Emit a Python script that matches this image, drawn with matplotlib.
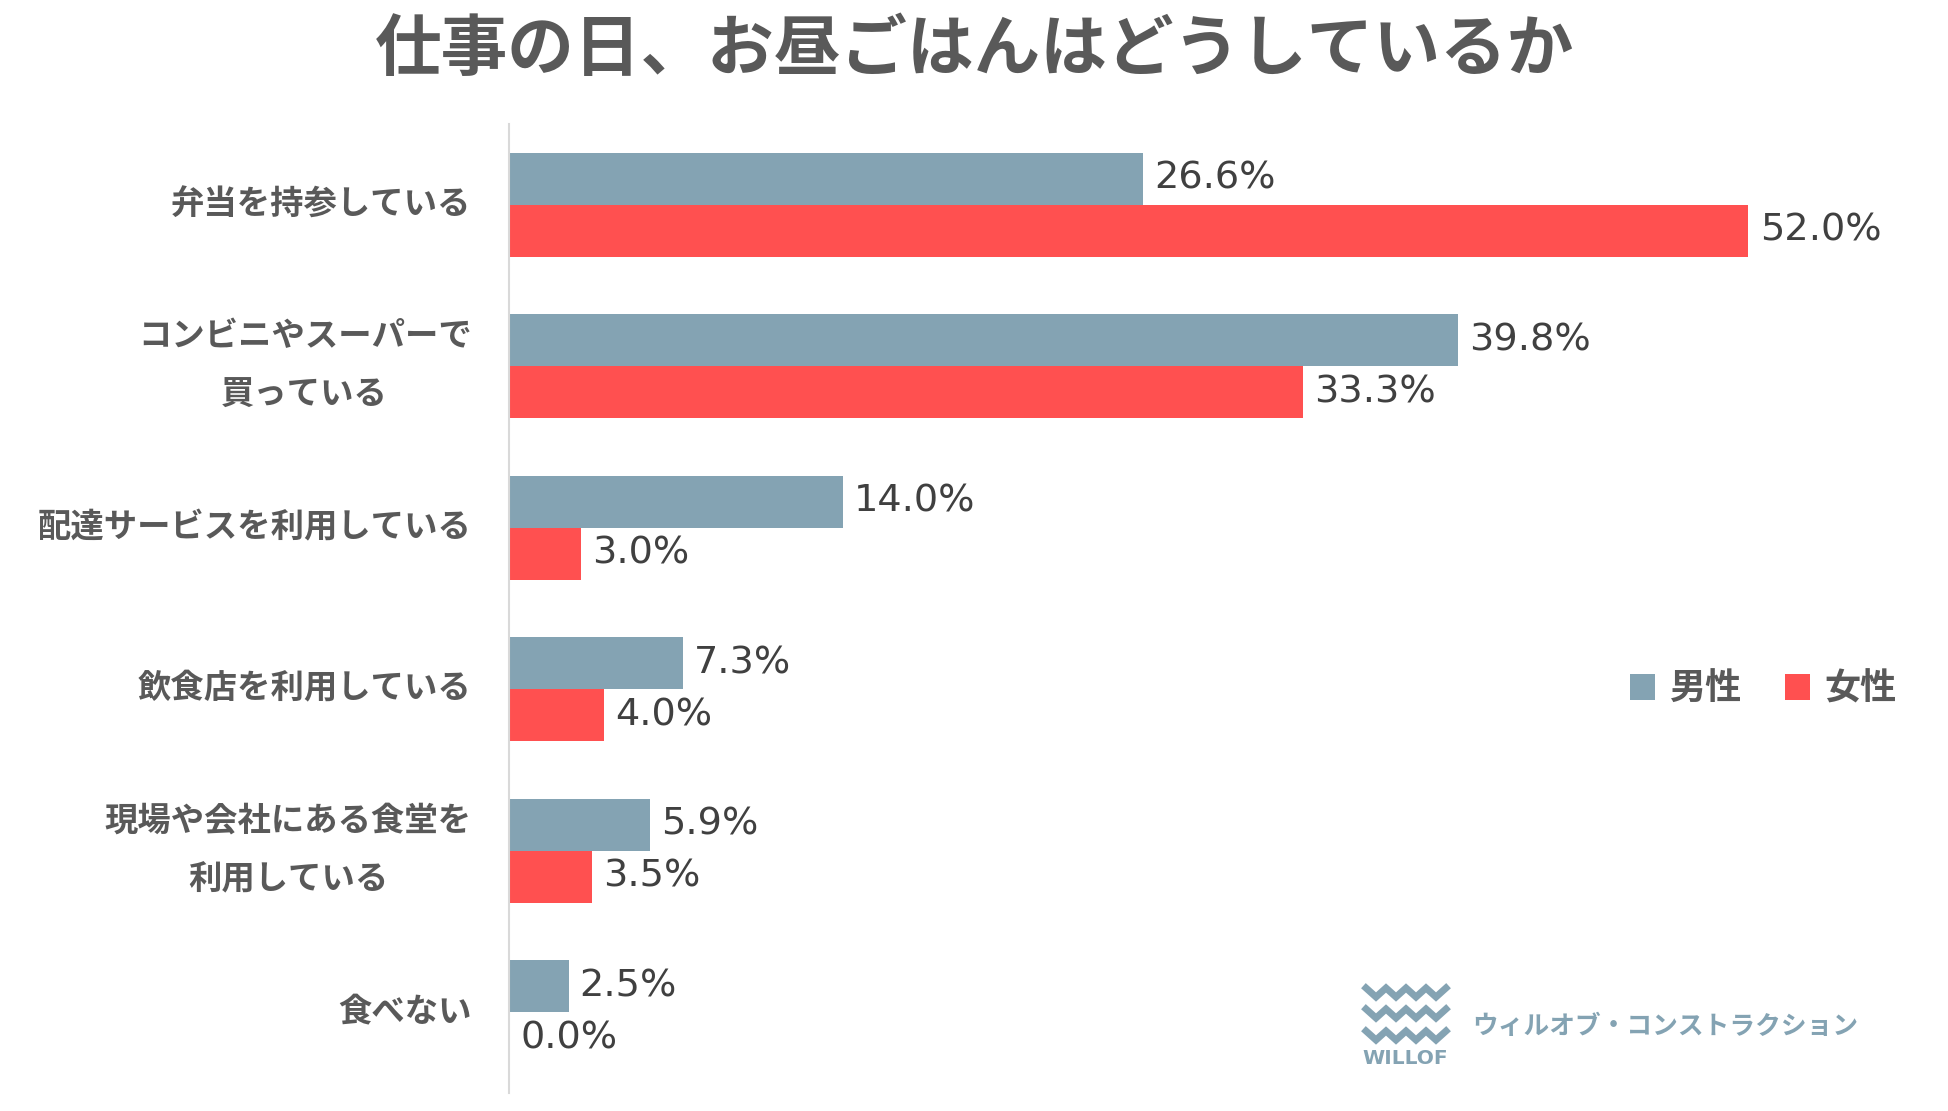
import numpy as np
import matplotlib.pyplot as plt
from matplotlib.transforms import ScaledTranslation

plt.rcParams['font.family'] = ['Noto Sans CJK JP', 'DejaVu Sans']

title = "仕事の日、お昼ごはんはどうしているか"
categories = ["弁当を持参している", "コンビニやスーパーで\n買っている", "配達サービスを利用している",
              "飲食店を利用している", "現場や会社にある食堂を\n利用している", "食べない"]
male = [26.6, 39.8, 14.0, 7.3, 5.9, 2.5]
female = [52.0, 33.3, 3.0, 4.0, 3.5, 0.0]
series = ["男性", "女性"]

c_male = "#84A3B3"
c_female = "#FF5050"
c_text = "#595959"

W, H = 1948, 1111
fig = plt.figure(figsize=[W / 100, H / 100], dpi=100)
ax = fig.add_axes([509 / W, 1 - 1093 / H, 1311 / W, (1093 - 124) / H])
ax.patch.set_visible(False)

y = np.arange(len(categories))
h = 0.322
b1 = ax.barh(y - h / 2, male, height=h, color=c_male, label=series[0])
b2 = ax.barh(y + h / 2, female, height=h, color=c_female, label=series[1])
for b in (b1, b2):
    ax.bar_label(b, fmt="%.1f%%", padding=8, fontsize=27.5, color="#404040",
                 family="DejaVu Sans")

ax.set_xlim(0, 55)
ax.set_ylim(len(categories) - 0.5, -0.5)
ax.set_xticks([])
ax.set_yticks(y)
ax.set_yticklabels(categories, fontsize=24, fontweight="bold", color=c_text)
shift = ScaledTranslation(0, 7 / 100, fig.dpi_scale_trans)
for t in ax.get_yticklabels():
    t.set_linespacing(2.0)
    t.set_multialignment("center")
    t.set_verticalalignment("center")
    t.set_transform(t.get_transform() + shift)
ax.tick_params(axis="y", length=0, pad=27)
for s in ["top", "right", "bottom"]:
    ax.spines[s].set_visible(False)
ax.spines["left"].set_color("#D9D9D9")
ax.spines["left"].set_linewidth(1.5)

fig.text(0.5, 1 - 50 / H, title, fontsize=48, fontweight="bold", color=c_text,
         ha="center", va="center")

fig.legend(handles=[b1, b2], labels=series, loc="center left",
           bbox_to_anchor=(1597 / W, 1 - 689 / H), ncol=2, frameon=False,
           prop={"size": 26, "weight": "bold"}, labelcolor=c_text,
           handlelength=0.7, handleheight=0.7, handletextpad=0.4, columnspacing=1.2)

# logo
lg = fig.add_axes([0, 0, 1, 1], zorder=-1)
lg.set_xlim(0, W)
lg.set_ylim(H, 0)
lg.axis("off")
xs = 1366 + np.arange(9) * (1446 - 1366) / 8
for top in (988, 1009, 1031):
    ys = [top + (k % 2) * 9 for k in range(9)]
    lg.plot(xs, ys, color=c_male, lw=5, solid_joinstyle="miter")
lg.text(1405, 1058, "WILLOF", fontsize=14.5, fontweight="bold", color=c_male,
        ha="center", va="center", family="DejaVu Sans")
lg.text(1472, 1027, "ウィルオブ・コンストラクション", fontsize=18.5, fontweight="bold",
        color=c_male, ha="left", va="center")

fig.savefig("out.png", dpi=100)
